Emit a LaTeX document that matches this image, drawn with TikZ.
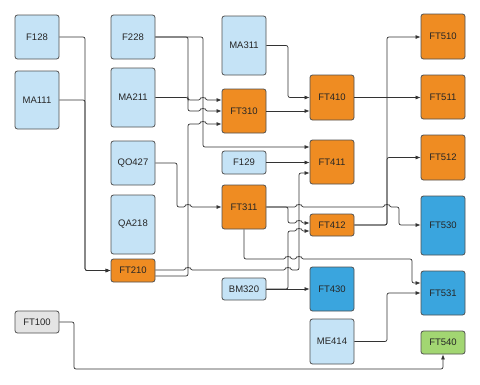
\documentclass[tikz,border=0pt]{standalone}
\usepackage{fontspec}
\setmainfont{Liberation Sans}
\usetikzlibrary{arrows.meta}
\definecolor{lb}{HTML}{C5E3F6}
\definecolor{orng}{HTML}{EF8C22}
\definecolor{dblue}{HTML}{3AA5DE}
\definecolor{grn}{HTML}{A2D672}
\definecolor{lgray}{HTML}{E4E4E4}
\definecolor{bord}{HTML}{505050}
\definecolor{wirec}{HTML}{333333}
\begin{document}
\begin{tikzpicture}[x=1pt,y=-1pt,
  box/.style={draw=bord, line width=0.8pt, rounded corners=2.5pt, inner sep=0pt,
    minimum width=44pt, font=\fontsize{9.5}{11}\selectfont, text=black!85},
  lbx/.style={box, fill=lb},
  obx/.style={box, fill=orng},
  bbx/.style={box, fill=dblue},
  gbx/.style={box, fill=grn},
  ybx/.style={box, fill=lgray},
  wire/.style={draw=wirec, line width=0.7pt, rounded corners=2pt},
  arr/.style={wire, -{Latex[length=5pt,width=4pt]}}
]
\useasboundingbox[fill=white] (0,0) rectangle (480,384);
% column 1
\node[lbx, minimum height=44pt] (f128) at (37,37) {F128};
\node[lbx, minimum height=58pt] (ma111) at (37,100) {MA111};
\node[ybx, minimum height=22pt] (ft100) at (37,322) {FT100};
% column 2
\node[lbx, minimum height=44pt] (f228) at (133,37) {F228};
\node[lbx, minimum height=59pt] (ma211) at (133,97.5) {MA211};
\node[lbx, minimum height=44pt] (qo427) at (133,163) {QO427};
\node[lbx, minimum height=59pt] (qa218) at (133,224.5) {QA218};
\node[obx, minimum height=23pt] (ft210) at (133,270.5) {FT210};
% column 3
\node[lbx, minimum height=59pt] (ma311) at (244,45.5) {MA311};
\node[obx, minimum height=44pt] (ft310) at (244,111) {FT310};
\node[lbx, minimum height=23pt] (f129) at (244,162.5) {F129};
\node[obx, minimum height=44pt] (ft311) at (244,207) {FT311};
\node[lbx, minimum height=22pt] (bm320) at (244,289) {BM320};
% column 4
\node[obx, minimum height=45pt] (ft410) at (332,97.5) {FT410};
\node[obx, minimum height=44pt] (ft411) at (332,162) {FT411};
\node[obx, minimum height=22pt] (ft412) at (332,225) {FT412};
\node[bbx, minimum height=44pt] (ft430) at (332,289) {FT430};
\node[lbx, minimum height=45pt] (me414) at (332,341.5) {ME414};
% column 5
\node[obx, minimum height=45pt] (ft510) at (443,36.5) {FT510};
\node[obx, minimum height=44pt] (ft511) at (443,97) {FT511};
\node[obx, minimum height=45pt] (ft512) at (443,157.5) {FT512};
\node[bbx, minimum height=59pt] (ft530) at (443,225.5) {FT530};
\node[bbx, minimum height=44pt] (ft531) at (443,293) {FT531};
\node[gbx, minimum height=23pt] (ft540) at (443,342.5) {FT540};

% connectors
\draw[arr] (f128.east) -- (85,37) |- (ft210.west);
\draw[arr] (ma111.east) -- (85,100) |- (ft210.west);
\draw[arr] (f228.east) -- (188,37) -- (188,111) -- (200.5,111)
  arc[start angle=180,end angle=0,radius=2.5pt] -- (ft310.west |- 0,111);
\draw[arr] (f228.east) -- (203,37) -- (203,147) -- (ft411.west |- 0,147);
\draw[arr] (ma211.east) -- (188,97.5) -- (188,100) -- (200.5,100)
  arc[start angle=180,end angle=0,radius=2.5pt] -- (ft310.west |- 0,100);
\draw[arr] (ft210.east |- 0,276) -- (188,276) -- (188,124) -- (200.5,124)
  arc[start angle=180,end angle=0,radius=2.5pt] -- (ft310.west |- 0,124);
\draw[arr] (ft210.east |- 0,270) -- (185.5,270)
  arc[start angle=180,end angle=0,radius=2.5pt] -- (285.5,270)
  arc[start angle=180,end angle=0,radius=2.5pt] -- (299,270) -- (299,173) -- (ft411.west |- 0,173);
\draw[arr] (qo427.east) -- (177,163) -- (177,207) -- (185.5,207)
  arc[start angle=180,end angle=0,radius=2.5pt] -- (ft311.west);
\draw[arr] (ma311.east) -- (288,45.5) |- (ft410.west);
\draw[arr] (ft310.east |- 0,111) -- (ft410.west |- 0,111);
\draw[arr] (f129.east) -- (ft411.west |- f129.east);
\draw[arr] (ft311.east) -- (288,207) -- (288,223) -- (296.5,223)
  arc[start angle=180,end angle=0,radius=2.5pt] -- (ft412.west |- 0,223);
\draw[arr] (bm320.east) -- (288,289) -- (288,231) -- (296.5,231)
  arc[start angle=180,end angle=0,radius=2.5pt] -- (ft412.west |- 0,231);
\draw[arr] (bm320.east) -- (ft430.west);
\draw[arr] (ft311.east) -- (296.5,207)
  arc[start angle=180,end angle=0,radius=2.5pt] -- (384.5,207)
  arc[start angle=180,end angle=0,radius=2.5pt] -- (399,207) -- (399,225) -- (ft530.west |- 0,225);
\draw[arr] (ft311.south) -- (244,259) -- (285.5,259)
  arc[start angle=180,end angle=0,radius=2.5pt] -- (296.5,259)
  arc[start angle=180,end angle=0,radius=2.5pt] -- (412,259) -- (412,283) -- (ft531.west |- 0,283);
\draw[arr] (me414.east) -- (387,341.5) -- (387,293) -- (ft531.west);
\draw[arr] (ft410.east) -- (ft511.west |- ft410.east);
\draw[arr] (ft412.east) -- (387,225) -- (387,37) -- (ft510.west |- 0,37);
\draw[arr] (ft412.east) -- (387,225) |- (ft512.west);
\draw[arr] (ft100.east) -- (74,322) -- (74,369) -- (443,369) -- (ft540.south);
\end{tikzpicture}
\end{document}
